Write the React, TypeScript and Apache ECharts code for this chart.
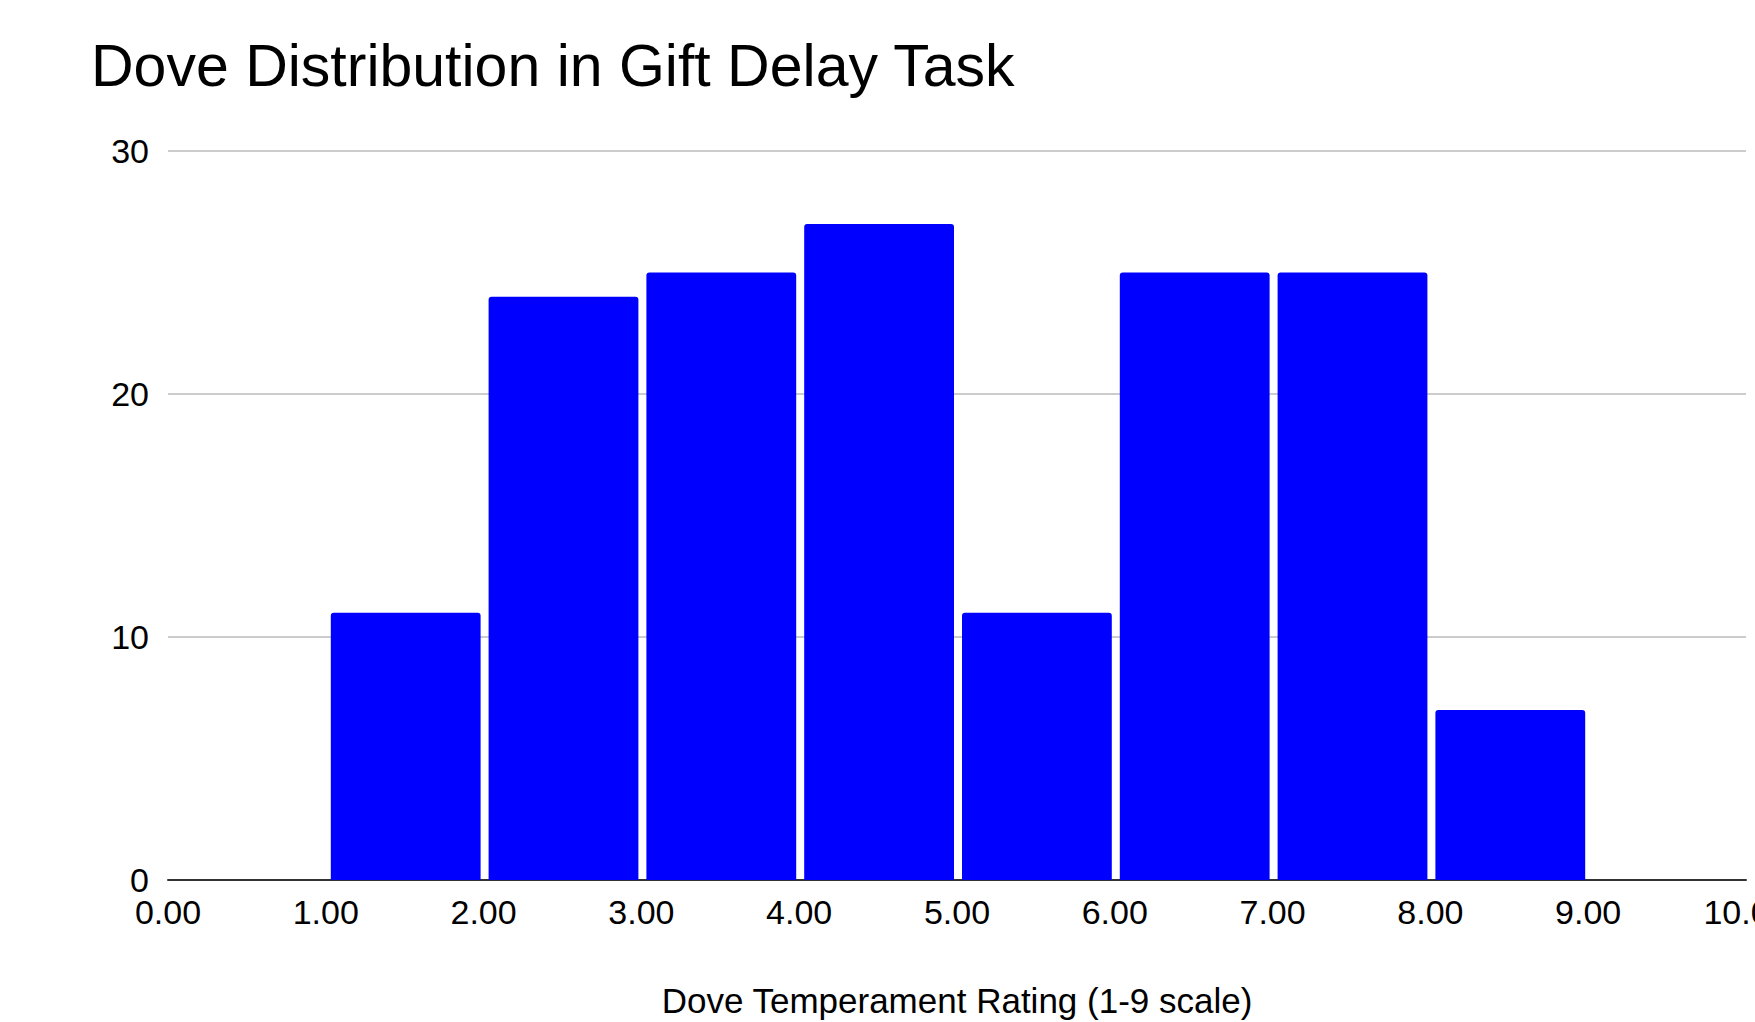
import React, { useEffect, useRef } from "react";
import * as echarts from "echarts";

const TITLE = "Dove Distribution in Gift Delay Task";
const X_AXIS_TITLE = "Dove Temperament Rating (1-9 scale)";
const binStarts = [0, 1, 2, 3, 4, 5, 6, 7, 8];
const binEnds = [1, 2, 3, 4, 5, 6, 7, 8, 9];
const counts = [0, 11, 24, 25, 27, 11, 25, 25, 7];
const yTicks = [0, 10, 20, 30];
const xTicks = [0, 1, 2, 3, 4, 5, 6, 7, 8, 9, 10];

const FONT = '"Liberation Sans", Arial, sans-serif';

export default function App() {
  const ref = useRef<HTMLDivElement>(null);
  useEffect(() => {
    if (!ref.current) return;
    const chart = echarts.init(ref.current, null, { renderer: "svg" });
    const data = binStarts.map((s, i) => [s, binEnds[i], counts[i]]);
    chart.setOption({
      animation: false,
      backgroundColor: "#ffffff",
      textStyle: { fontFamily: FONT },
      title: {
        text: TITLE,
        left: 91,
        top: 36,
        padding: 0,
        textStyle: { fontFamily: FONT, fontSize: 59, fontWeight: "normal", color: "#000000" },
      },
      grid: {
        left: 168,
        right: 9,
        top: 151,
        bottom: 142,
        containLabel: false,
        outerBoundsMode: "none",
      },
      xAxis: {
        type: "value",
        min: xTicks[0],
        max: xTicks[xTicks.length - 1],
        interval: 1,
        name: X_AXIS_TITLE,
        nameLocation: "middle",
        nameGap: 103,
        nameTextStyle: { fontFamily: FONT, fontSize: 35, color: "#000000" },
        axisLine: { show: true, onZero: false, lineStyle: { color: "#333333", width: 2 } },
        axisTick: { show: false },
        splitLine: { show: false },
        axisLabel: {
          fontFamily: FONT,
          fontSize: 34,
          color: "#000000",
          margin: 15,
          showMaxLabel: true,
          hideOverlap: false,
          formatter: (v: number) => v.toFixed(2),
        },
      },
      yAxis: {
        type: "value",
        min: yTicks[0],
        max: yTicks[yTicks.length - 1],
        interval: 10,
        axisLine: { show: false },
        axisTick: { show: false },
        splitLine: { show: true, lineStyle: { color: "#cccccc", width: 2 } },
        axisLabel: { fontFamily: FONT, fontSize: 34, color: "#000000", margin: 19 },
      },
      series: [
        {
          type: "custom",
          data,
          z: 3,
          encode: { x: [0, 1], y: 2 },
          renderItem: (params: any, api: any) => {
            const s = api.value(0);
            const e = api.value(1);
            const c = api.value(2);
            if (!c) return null;
            const p0 = api.coord([s, 0]);
            const p1 = api.coord([e, c]);
            const x = p0[0] + 5;
            const w = p1[0] - 3 - x;
            return {
              type: "rect",
              shape: { x, y: p1[1], width: w, height: p0[1] - p1[1], r: [3, 3, 0, 0] },
              style: { fill: "#0000ff" },
            };
          },
        },
      ],
    });
    return () => chart.dispose();
  }, []);
  return (
    <div
      ref={ref}
      style={{ position: "absolute", left: 0, top: 0, width: 1755, height: 1022, overflow: "hidden" }}
    />
  );
}
